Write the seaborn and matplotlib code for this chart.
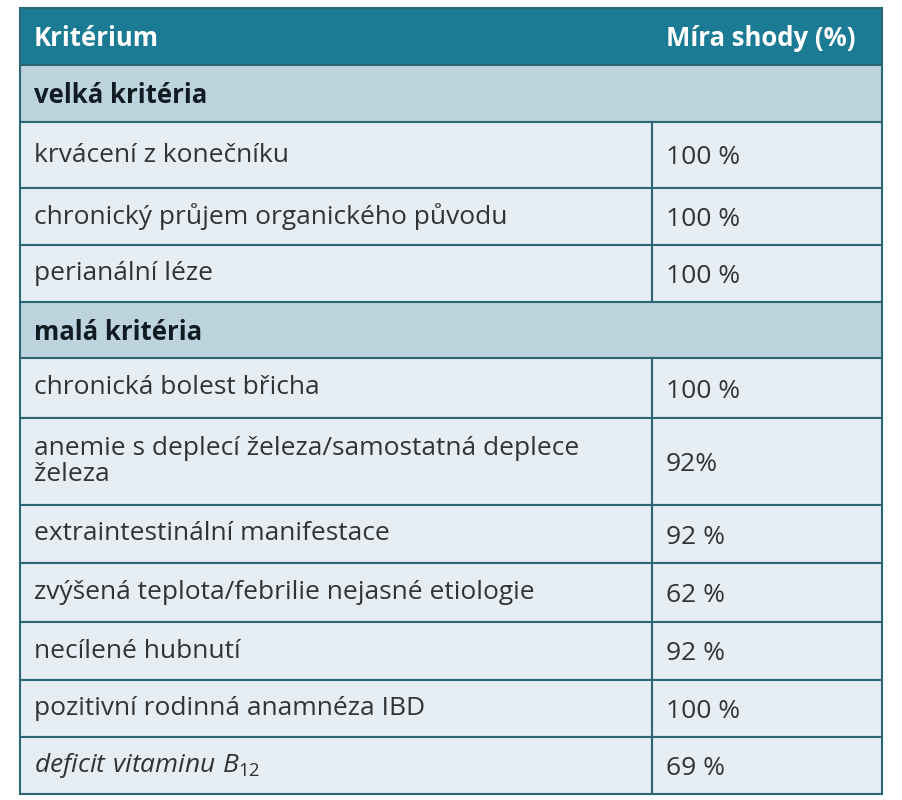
import matplotlib
matplotlib.use("Agg")
import matplotlib.pyplot as plt
import seaborn as sns
from matplotlib.patches import Rectangle

sns.set_theme(style="white")
plt.rcParams['font.family'] = ['Open Sans', 'DejaVu Sans']
plt.rcParams['mathtext.fontset'] = 'custom'
plt.rcParams['mathtext.it'] = 'Open Sans:italic'
plt.rcParams['mathtext.rm'] = 'Open Sans'

headers = ["Kritérium", "Míra shody (%)"]
section_major = "velká kritéria"
major_criteria = ["krvácení z konečníku", "chronický průjem organického původu", "perianální léze"]
major_values = ["100 %", "100 %", "100 %"]
section_minor = "malá kritéria"
minor_criteria = ["chronická bolest břicha",
                  "anemie s deplecí železa/samostatná deplece\nželeza",
                  "extraintestinální manifestace",
                  "zvýšená teplota/febrilie nejasné etiologie",
                  "necílené hubnutí",
                  "pozitivní rodinná anamnéza IBD",
                  r"$\it{deficit\ vitaminu\ B_{12}}$"]
minor_values = ["100 %", "92%", "92 %", "62 %", "92 %", "100 %", "69 %"]

W, H = 902, 800
fig = plt.figure(figsize=(W/100, H/100), dpi=100)
ax = fig.add_axes([0, 0, 1, 1])
ax.set_xlim(0, W); ax.set_ylim(H, 0); ax.axis("off")

L, R, C = 20, 882, 652
HEAD, BODY, SEC, EDGE = "#1b7b95", "#e6edf3", "#bdd4df", "#2d6674"
FS = 19

rows = [("head", headers[0], headers[1], 57)]
rows.append(("sec", section_major, "", 57))
hs = [66, 57, 57]
for t, v, h in zip(major_criteria, major_values, hs):
    rows.append(("body", t, v, h))
rows.append(("sec", section_minor, "", 56))
hs = [60, 87, 58, 59, 58, 57, 57]
for t, v, h in zip(minor_criteria, minor_values, hs):
    rows.append(("body", t, v, h))

y = 8
for kind, t, v, h in rows:
    if kind == "head":
        ax.add_patch(Rectangle((L, y), R-L, h, fc=HEAD, ec=EDGE, lw=1.5))
        ax.text(L+14, y+h/2+2, t, color="white", fontsize=FS-0.5, fontweight="bold", va="center")
        ax.text(C+14, y+h/2+2, v, color="white", fontsize=FS-0.5, fontweight="bold", va="center")
    elif kind == "sec":
        ax.add_patch(Rectangle((L, y), R-L, h, fc=SEC, ec=EDGE, lw=1.5))
        ax.text(L+14, y+h/2+2, t, color="#111c22", fontsize=FS-0.5, fontweight="bold", va="center")
    else:
        ax.add_patch(Rectangle((L, y), C-L, h, fc=BODY, ec=EDGE, lw=1.5))
        ax.add_patch(Rectangle((C, y), R-C, h, fc=BODY, ec=EDGE, lw=1.5))
        ax.text(L+14, y+h/2, t, color="#333333", fontsize=FS, va="center", linespacing=1.05)
        ax.text(C+14, y+h/2+3, v, color="#333333", fontsize=FS, va="center")
    y += h

fig.savefig("out.png", dpi=100)
